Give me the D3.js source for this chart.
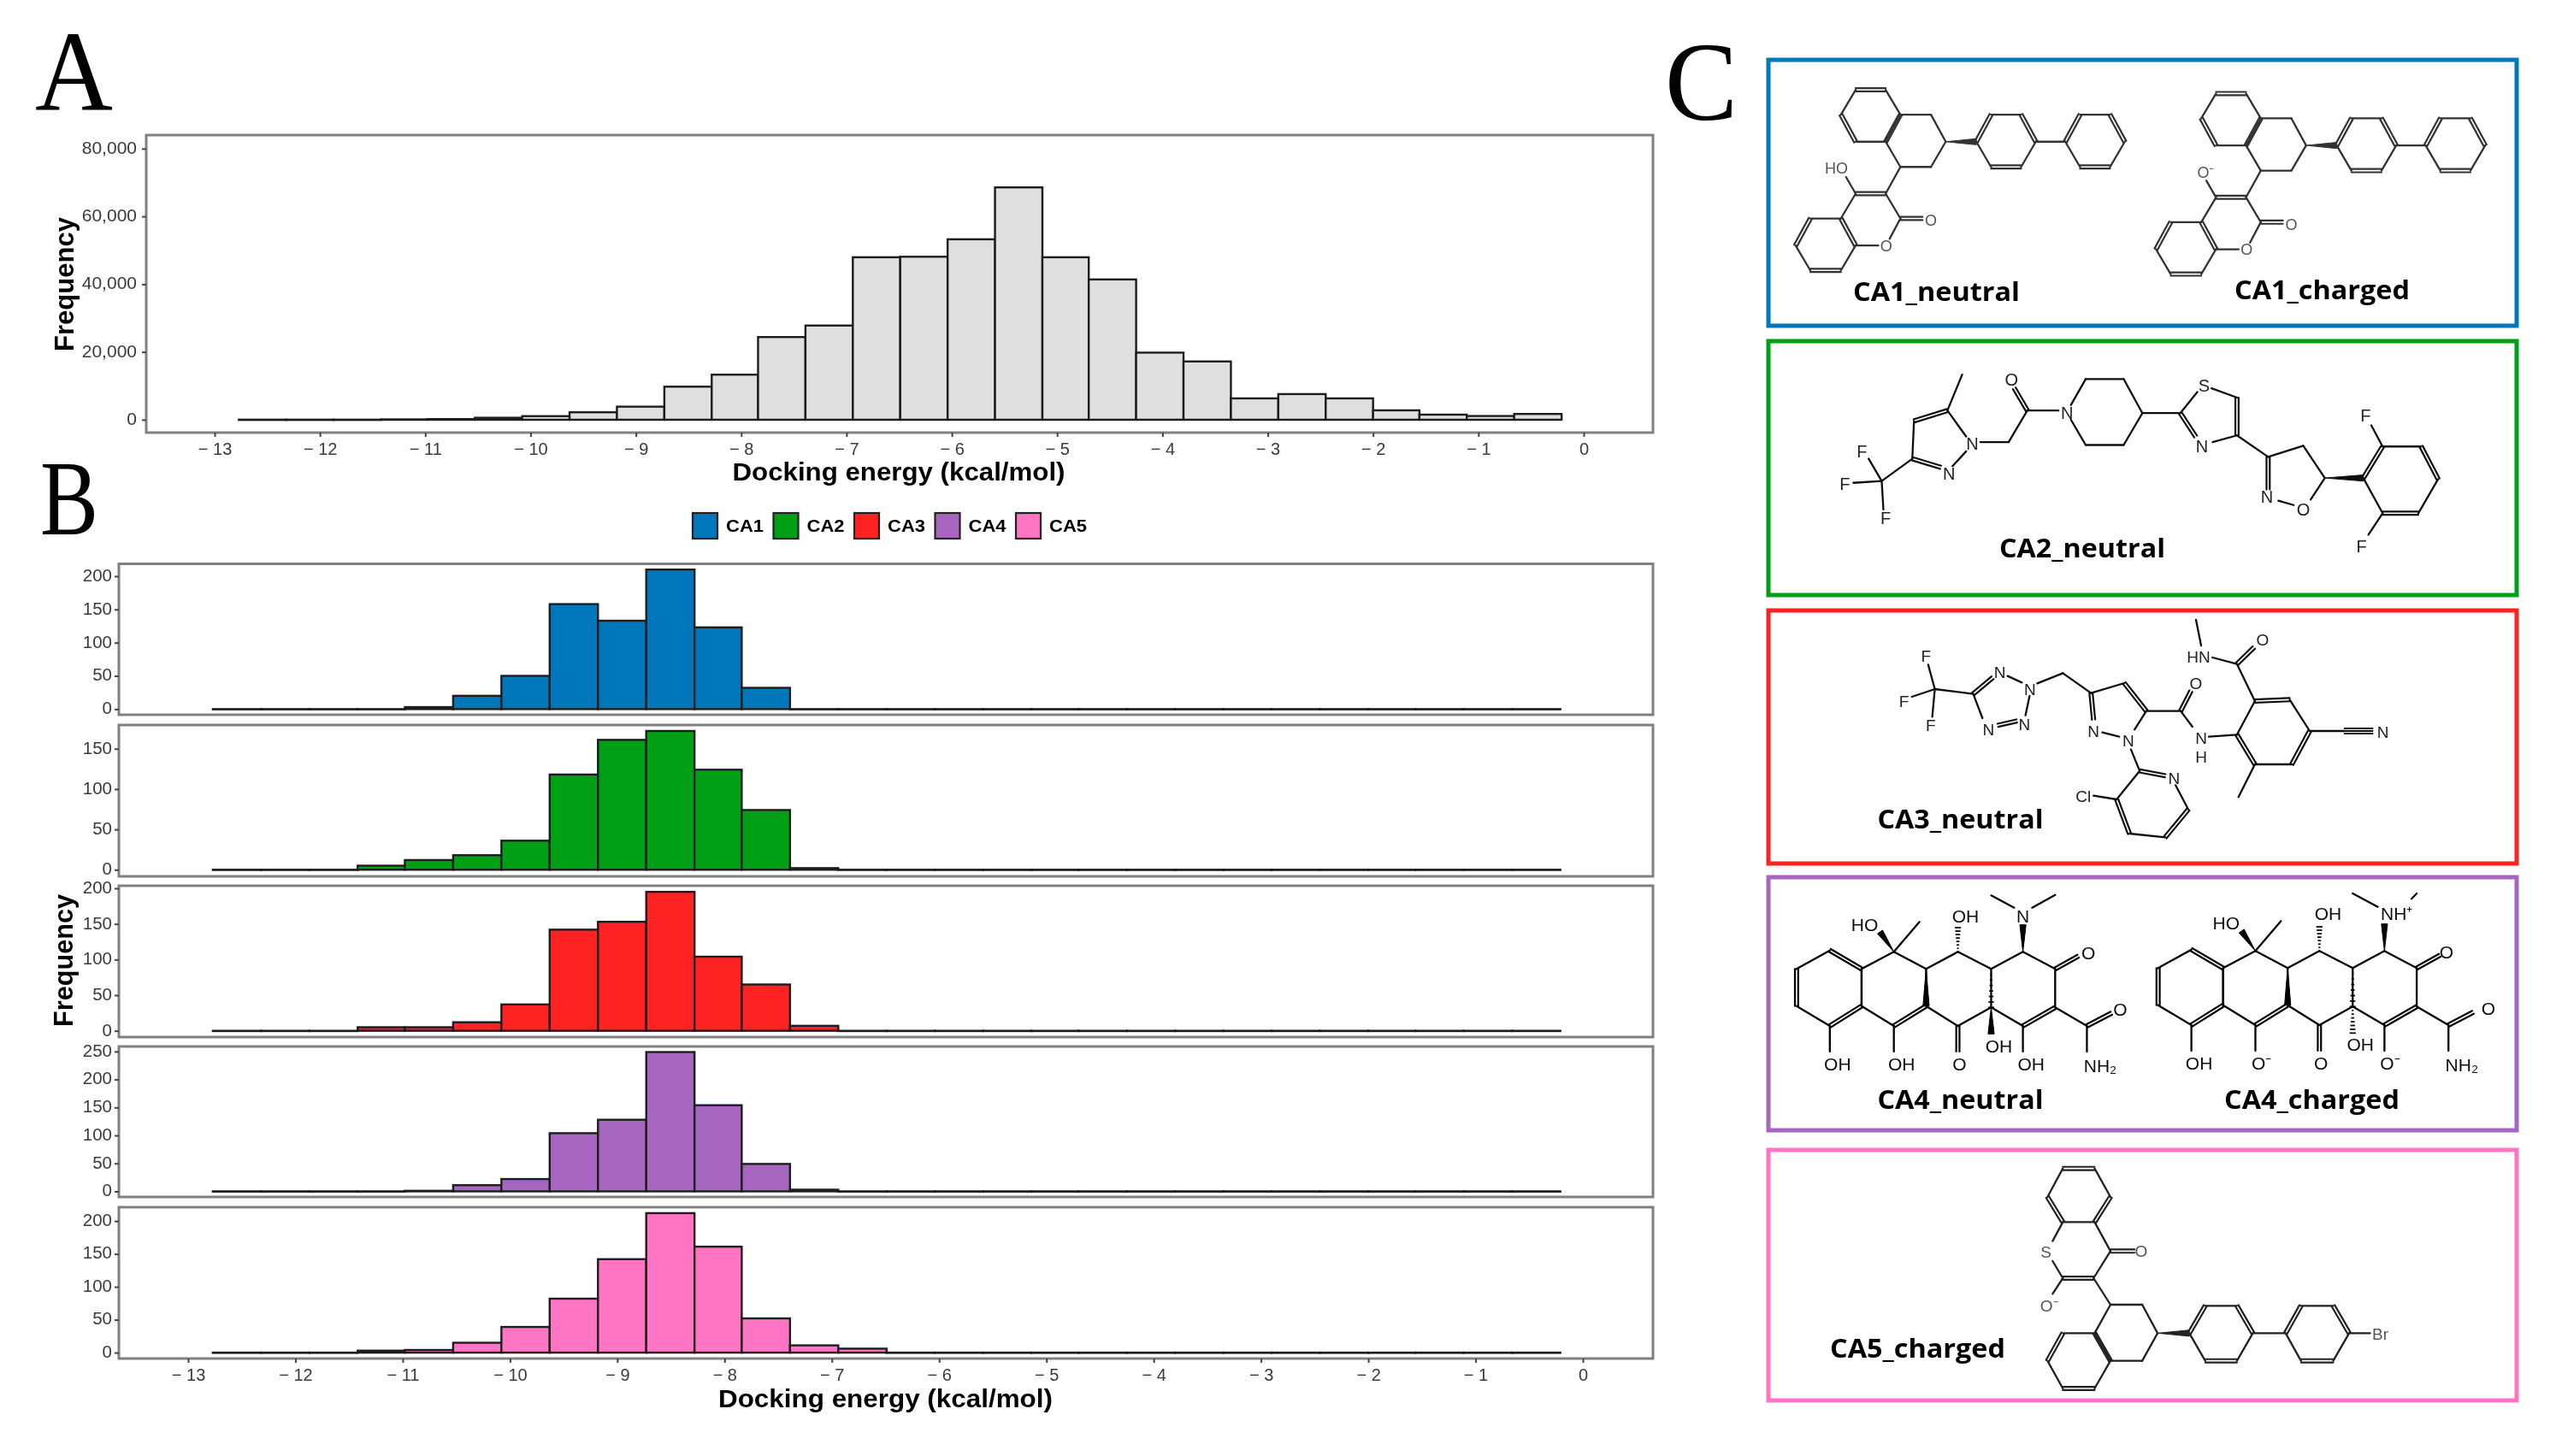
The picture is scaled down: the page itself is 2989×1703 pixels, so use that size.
<!DOCTYPE html>
<html>
<head>
<meta charset="utf-8">
<title>Docking energy histograms</title>
<script src="https://cdn.jsdelivr.net/npm/d3@7"></script>
<style>
html, body { margin: 0; padding: 0; background: #fff; }
svg { display: block; }
</style>
</head>
<body>
<div id="chart"></div>
<script>
// histogram bin edges (kcal/mol), 28 bins
var binEdges = [-12.77, -12.32, -11.87, -11.42, -10.98, -10.53, -10.08, -9.63, -9.18, -8.73, -8.28, -7.84, -7.39, -6.94,
    -6.49, -6.04, -5.59, -5.14, -4.70, -4.25, -3.80, -3.35, -2.90, -2.45, -2.00, -1.56, -1.11, -0.66, -0.21];

var allCounts = [20, 20, 20, 100, 200, 580, 1060, 2200, 3860, 9760, 13300, 24400, 27800, 47950,
    48100, 53250, 68560, 47950, 41400, 19800, 17200, 6300, 7570, 6300, 2780, 1500, 1100, 1700];

var ca1Counts = [0, 0, 0, 0, 3, 20, 50, 158, 133, 210, 123, 32, 0, 0, 0, 0, 0, 0, 0, 0, 0, 0, 0, 0, 0, 0, 0, 0];
var ca2Counts = [0, 0, 0, 5, 12, 18, 36, 118, 161, 172, 124, 74, 2, 0, 0, 0, 0, 0, 0, 0, 0, 0, 0, 0, 0, 0, 0, 0];
var ca3Counts = [0, 0, 0, 5, 5, 12, 37, 142, 153, 195, 104, 65, 7, 0, 0, 0, 0, 0, 0, 0, 0, 0, 0, 0, 0, 0, 0, 0];
var ca4Counts = [0, 0, 0, 0, 1, 11, 22, 104, 128, 249, 154, 49, 3, 0, 0, 0, 0, 0, 0, 0, 0, 0, 0, 0, 0, 0, 0, 0];
var ca5Counts = [0, 0, 0, 3, 4, 15, 39, 82, 142, 212, 161, 52, 11, 6, 0, 0, 0, 0, 0, 0, 0, 0, 0, 0, 0, 0, 0, 0];

var caNames = ['CA1', 'CA2', 'CA3', 'CA4', 'CA5'];
var caColors = ['#0077bb', '#00a014', '#ff2124', '#a666bf', '#ff75c3'];
var caCounts = [ca1Counts, ca2Counts, ca3Counts, ca4Counts, ca5Counts];

var energyTicks = [-13, -12, -11, -10, -9, -8, -7, -6, -5, -4, -3, -2, -1, 0];
var allTicks = [0, 20000, 40000, 60000, 80000];
var caTicks = [
    [0, 50, 100, 150, 200],
    [0, 50, 100, 150],
    [0, 50, 100, 150, 200],
    [0, 50, 100, 150, 200, 250],
    [0, 50, 100, 150, 200]
];
var caDomains = [[-8.5, 218.6], [-8.2, 179.4], [-8.8, 203.6], [-10, 259], [-9, 221]];

// layout
var panelA = { left: 171, right: 1933, top: 158, bottom: 506 };
var panelBLeft = 139, panelBRight = 1933;
var panelTops = [659.5, 848, 1036, 1224, 1412];
var panelBottoms = [836, 1025, 1213, 1400, 1589];
var axisFont = '"Liberation Sans", Arial, sans-serif';

var svg = d3.select('#chart').append('svg').attr('width', 2989).attr('height', 1703);
var defs = svg.append('defs');
defs.append('filter').attr('id', 'soft').attr('x', 0).attr('y', 0).attr('width', 1).attr('height', 1)
    .attr('filterUnits', 'objectBoundingBox')
    .append('feGaussianBlur').attr('stdDeviation', 0.6);

var root = svg.append('g').attr('filter', 'url(#soft)');
root.append('rect').attr('width', 2989).attr('height', 1703).attr('fill', '#fff');

function energyLabel(v) {
    return v < 0 ? '\u2212 ' + Math.abs(v) : '0';
}

function styleAxis(g) {
    g.select('.domain').remove();
    g.selectAll('line').attr('stroke', '#444').attr('stroke-width', 2);
    g.selectAll('text').attr('fill', '#3a3a3a').attr('font-family', axisFont);
}

function drawPanel(box, x, y, counts, fill, ticks, yFormat, yPad, fontSize, showX) {
    root.append('rect')
        .attr('x', box.left).attr('y', box.top)
        .attr('width', box.right - box.left).attr('height', box.bottom - box.top)
        .attr('fill', 'none').attr('stroke', '#808080').attr('stroke-width', 3);

    // empty bins still show as a flat outline, a zero height rect would not be painted
    root.append('g').selectAll('rect').data(counts).enter().append('rect')
        .attr('x', function (d, i) { return x(binEdges[i]); })
        .attr('width', function (d, i) { return x(binEdges[i + 1]) - x(binEdges[i]); })
        .attr('y', function (d) { return y(d); })
        .attr('height', function (d) { return Math.max(y(0) - y(d), 0.3); })
        .attr('fill', fill)
        .attr('stroke', '#1f1f1f')
        .attr('stroke-width', 2.4);

    var yAxis = d3.axisLeft(y).tickValues(ticks).tickFormat(yFormat).tickSize(5).tickPadding(yPad);
    root.append('g').attr('transform', 'translate(' + box.left + ',0)').call(yAxis)
        .attr('font-size', fontSize).call(styleAxis)
        .selectAll('text').attr('dy', '0.26em');

    if (showX) {
        var xAxis = d3.axisBottom(x).tickValues(energyTicks).tickFormat(energyLabel).tickSize(5).tickPadding(7);
        root.append('g').attr('transform', 'translate(0,' + box.bottom + ')').call(xAxis)
            .attr('font-size', 20).call(styleAxis);
    }
}

// panel A
var xA = d3.scaleLinear().domain([-13, 0]).range([251, 1852]);
var yA = d3.scaleLinear().domain([-3800, 84000]).range([panelA.bottom, panelA.top]);
drawPanel(panelA, xA, yA, allCounts, '#dfdfdf', allTicks, d3.format(','), 6, 21, true);

// panel B
var xB = d3.scaleLinear().domain([-13, 0]).range([220, 1851]);
caCounts.forEach(function (counts, i) {
    var box = { left: panelBLeft, right: panelBRight, top: panelTops[i], bottom: panelBottoms[i] };
    var y = d3.scaleLinear().domain(caDomains[i]).range([box.bottom, box.top]);
    drawPanel(box, xB, y, counts, caColors[i], caTicks[i], d3.format('d'), 3, 20.5, i === 4);
});

function fitText(text, x, baseline, width, size, opts) {
    opts = opts || {};
    var t = root.append('text')
        .attr('x', x).attr('y', baseline)
        .attr('font-family', opts.font || axisFont)
        .attr('font-weight', opts.weight || 'bold')
        .attr('font-size', size)
        .attr('fill', opts.fill || '#000')
        .attr('textLength', width)
        .attr('lengthAdjust', 'spacingAndGlyphs')
        .text(text);
    if (opts.rotate) t.attr('transform', 'rotate(-90,' + x + ',' + baseline + ')');
    return t;
}

// axis titles
fitText('Docking energy (kcal/mol)', 856.5, 562, 389, 29);
fitText('Docking energy (kcal/mol)', 840, 1646, 391, 30);
fitText('Frequency', 86, 411, 157, 32, { rotate: true });
fitText('Frequency', 85, 1201, 155, 32, { rotate: true });

// legend
var legendX = d3.scalePoint().domain(caNames).range([810, 1188]);
var legend = root.append('g').selectAll('g').data(caNames).enter().append('g')
    .attr('transform', function (d) { return 'translate(' + legendX(d) + ',600)'; });
legend.append('rect').attr('width', 29).attr('height', 30)
    .attr('fill', function (d, i) { return caColors[i]; })
    .attr('stroke', '#222').attr('stroke-width', 2.2);
legend.append('text').attr('x', 39).attr('y', 22)
    .attr('font-family', axisFont).attr('font-weight', 'bold').attr('font-size', 21)
    .attr('textLength', 44).attr('lengthAdjust', 'spacingAndGlyphs')
    .text(function (d) { return d; });

// panel letters
var letterFont = '"Liberation Serif", "Times New Roman", serif';
fitText('A', 41, 128, 91, 133, { font: letterFont, weight: 'normal' });
fitText('B', 47, 625, 68, 125, { font: letterFont, weight: 'normal' });
fitText('C', 1947, 140, 85, 132, { font: letterFont, weight: 'normal' });

// panel C boxes
var boxTops = [70, 399, 714, 1026, 1345];
var boxBottoms = [381, 696, 1010, 1322, 1638];
caColors.forEach(function (c, i) {
    root.append('rect').attr('x', 2068).attr('y', boxTops[i])
        .attr('width', 2943 - 2068).attr('height', boxBottoms[i] - boxTops[i])
        .attr('fill', '#fff').attr('stroke', c).attr('stroke-width', 5);
});

// molecule sketches, coordinates are per drawing frame and mapped with the scales below
var frameX1 = d3.scaleLinear().domain([0, 1568]).range([1950, 2989]);
var frameY1 = d3.scaleLinear().domain([0, 1568]).range([40, 720]);
var frameX2 = d3.scaleLinear().domain([0, 1568]).range([2050, 2989]);
var frameY3 = d3.scaleLinear().domain([0, 960]).range([700, 1020]);
var frameY4 = d3.scaleLinear().domain([0, 990]).range([1020, 1350]);
var frameY5 = d3.scaleLinear().domain([0, 930]).range([1340, 1650]);

function drawBond(g, a, b, kind, color) {
    var dx = b[0] - a[0], dy = b[1] - a[1], len = Math.sqrt(dx * dx + dy * dy) || 1;
    var nx = -dy / len, ny = dx / len;
    function seg(off, w) {
        g.append('line')
            .attr('x1', a[0] + nx * off).attr('y1', a[1] + ny * off)
            .attr('x2', b[0] + nx * off).attr('y2', b[1] + ny * off)
            .attr('stroke', color).attr('stroke-width', w).attr('stroke-linecap', 'round');
    }
    if (kind === 'd') { seg(-1.9, 2.2); seg(1.9, 2.2); }
    else if (kind === 't') { seg(-3, 1.8); seg(0, 1.8); seg(3, 1.8); }
    else if (kind === 'w') {
        g.append('path')
            .attr('d', d3.line()([a, [b[0] + nx * 3.6, b[1] + ny * 3.6], [b[0] - nx * 3.6, b[1] - ny * 3.6]]) + 'Z')
            .attr('fill', color).attr('stroke', color).attr('stroke-width', 1);
    } else if (kind === 'h') {
        d3.range(0, 8).forEach(function (k) {
            var f = k / 7, w = 0.6 + f * 3;
            var px = a[0] + dx * f, py = a[1] + dy * f;
            g.append('line').attr('x1', px - nx * w).attr('y1', py - ny * w)
                .attr('x2', px + nx * w).attr('y2', py + ny * w)
                .attr('stroke', color).attr('stroke-width', 1.7);
        });
    } else { seg(0, 2.3); }
}

function drawMolecule(m) {
    var g = root.append('g');
    var dx = m.dx || 0, dy = m.dy || 0;
    function pt(p) { return [m.fx(p[0] + dx), m.fy(p[1] + dy)]; }
    (m.rings || []).forEach(function (r) {
        var n = r.pts.length;
        r.pts.forEach(function (p, i) {
            if (r.open && i === n - 1) return;
            drawBond(g, pt(p), pt(r.pts[(i + 1) % n]), r.dbl.indexOf(i) >= 0 ? 'd' : 's', m.color);
        });
    });
    (m.bonds || []).forEach(function (b) {
        drawBond(g, pt([b[0], b[1]]), pt([b[2], b[3]]), b[4] || 's', m.color);
    });
    (m.labels || []).forEach(function (l) {
        var p = pt([l[1], l[2]]);
        g.append('text').attr('x', p[0]).attr('y', p[1]).attr('dy', '0.36em')
            .attr('text-anchor', 'middle').attr('font-family', axisFont)
            .attr('font-size', m.fontSize).attr('fill', m.labelColor).text(l[0]);
    });
}

// CA1
var ca1Rings = [
    { pts: [[332, 150], [385, 150], [411, 217], [385, 290], [332, 290], [306, 217]], dbl: [0, 2, 4] },
    { pts: [[411, 217], [465, 217], [491, 290], [465, 358], [411, 358], [385, 290]], dbl: [] },
    { pts: [[545, 290], [571, 217], [624, 217], [650, 290], [624, 358], [571, 358]], dbl: [0, 2, 4] },
    { pts: [[702, 290], [728, 217], [781, 217], [807, 290], [781, 358], [728, 358]], dbl: [0, 2, 4] },
    { pts: [[306, 497], [332, 570], [306, 637], [252, 637], [226, 570], [252, 497]], dbl: [0, 2, 4] }
];
var ca1Bonds = [
    [491, 290, 545, 290, 'w'], [650, 290, 702, 290], [411, 358, 385, 430], [385, 430, 332, 430, 'd'],
    [332, 430, 306, 497], [385, 430, 411, 497], [411, 497, 392, 552], [411, 497, 450, 497, 'd'],
    [332, 430, 315, 385], [332, 570, 372, 570]
];
drawMolecule({ fx: frameX1, fy: frameY1, color: '#333', labelColor: '#555', fontSize: 18, rings: ca1Rings, bonds: ca1Bonds,
    labels: [['HO', 298, 362], ['O', 386, 570], ['O', 465, 502]] });
drawMolecule({ fx: frameX1, fy: frameY1, color: '#333', labelColor: '#555', fontSize: 18, rings: ca1Rings, bonds: ca1Bonds, dx: 636, dy: 10,
    labels: [['O\u207b', 314, 362], ['O', 386, 570], ['O', 465, 502]] });

// CA2
drawMolecule({ fx: frameX1, fy: frameY1, color: '#111', labelColor: '#222', fontSize: 20,
    rings: [
        { pts: [[712, 1000], [738, 930], [805, 930], [838, 1022], [805, 1108], [738, 1108], [712, 1040]], dbl: [], open: true },
        { pts: [[1228, 1197], [1262, 1112], [1330, 1112], [1360, 1200], [1325, 1292], [1262, 1292]], dbl: [0, 2, 4] }
    ],
    bonds: [
        [520, 918, 494, 1015], [494, 1015, 435, 1043, 'd'], [435, 1043, 432, 1145], [432, 1145, 482, 1168, 'd'],
        [503, 1165, 527, 1125], [527, 1085, 494, 1015], [432, 1145, 378, 1205], [378, 1205, 355, 1145],
        [378, 1205, 328, 1210], [378, 1205, 381, 1282], [552, 1100, 602, 1100], [602, 1100, 635, 1015],
        [635, 1015, 612, 955, 'd'], [635, 1015, 690, 1015], [838, 1022, 905, 1022],
        [905, 1022, 935, 965], [960, 955, 1005, 980], [1005, 980, 1005, 1082, 'd'], [1005, 1082, 962, 1100],
        [905, 1022, 932, 1085, 'd'], [1005, 1082, 1060, 1140], [1060, 1140, 1122, 1110], [1122, 1110, 1160, 1197],
        [1160, 1197, 1135, 1255], [1060, 1140, 1060, 1228, 'd'], [1078, 1258, 1105, 1270], [1160, 1197, 1228, 1197, 'w'],
        [1262, 1112, 1242, 1055], [1262, 1292, 1237, 1350]
    ],
    labels: [['O', 607, 930], ['N', 705, 1020], ['N', 538, 1103], ['N', 497, 1185], ['F', 343, 1125], ['F', 313, 1213], ['F', 385, 1305],
        ['S', 947, 947], ['N', 943, 1112], ['N', 1058, 1248], ['O', 1122, 1282], ['F', 1232, 1028], ['F', 1225, 1380]] });

// CA3
drawMolecule({ fx: frameX2, fy: frameY3, color: '#111', labelColor: '#222', fontSize: 19,
    rings: [{ pts: [[945, 478], [980, 360], [1048, 355], [1087, 465], [1052, 582], [980, 582]], dbl: [1, 3, 5] }],
    bonds: [
        [355, 318, 342, 232], [355, 318, 310, 345], [355, 318, 350, 415], [355, 318, 430, 335], [430, 335, 468, 278, 'd'],
        [497, 272, 525, 295], [540, 342, 532, 410], [515, 430, 478, 445, 'd'], [448, 420, 430, 335], [555, 298, 605, 262],
        [605, 262, 660, 332], [660, 332, 725, 297], [725, 297, 768, 395, 'd'], [768, 395, 745, 460], [715, 485, 682, 470],
        [665, 425, 660, 332, 'd'], [768, 395, 835, 395], [835, 395, 855, 325, 'd'], [835, 395, 858, 450], [738, 530, 755, 605],
        [755, 605, 805, 622, 'd'], [825, 655, 850, 740], [850, 740, 805, 838, 'd'], [805, 838, 735, 825], [735, 825, 710, 705, 'd'],
        [710, 705, 755, 605], [710, 705, 665, 692], [890, 485, 945, 478], [980, 582, 948, 697], [1087, 465, 1155, 465],
        [1155, 465, 1210, 465, 't'], [980, 360, 945, 230], [945, 230, 978, 172, 'd'], [945, 230, 897, 207], [875, 165, 865, 75]
    ],
    labels: [['F', 338, 200], ['F', 295, 360], ['F', 347, 445], ['N', 482, 258], ['N', 541, 318], ['N', 530, 440], ['N', 460, 458],
        ['N', 665, 465], ['N', 733, 497], ['O', 865, 298], ['N', 875, 490], ['H', 875, 555], ['N', 822, 630], ['Cl', 645, 692],
        ['N', 1230, 467], ['O', 995, 145], ['HN', 870, 205]] });

// CA4
var ca4Rings = [
    { pts: [[85, 340], [150, 275], [212, 340], [212, 470], [150, 540], [85, 470]], dbl: [1, 3, 5] },
    { pts: [[212, 340], [275, 280], [338, 340], [338, 470], [275, 540], [212, 470]], dbl: [3] },
    { pts: [[338, 340], [400, 280], [465, 340]], dbl: [], open: true },
    { pts: [[338, 470], [400, 540], [465, 475]], dbl: [], open: true },
    { pts: [[465, 340], [527, 280], [590, 340], [590, 475], [527, 540], [465, 475]], dbl: [3] }
];
var ca4Bonds = [
    [338, 340, 338, 470, 'w'], [465, 340, 465, 475, 'h'], [590, 340, 635, 295, 'd'], [590, 475, 652, 540],
    [652, 540, 700, 495, 'd'], [652, 540, 652, 630], [150, 540, 150, 630], [275, 540, 275, 630], [400, 540, 400, 630, 'd'],
    [527, 540, 527, 630], [275, 280, 248, 210, 'w'], [275, 280, 325, 175], [400, 280, 400, 195, 'h'], [527, 280, 527, 185, 'w']
];
drawMolecule({ fx: frameX2, fy: frameY4, color: '#000', labelColor: '#111', fontSize: 21, rings: ca4Rings,
    bonds: ca4Bonds.concat([[465, 475, 465, 568, 'w'], [510, 125, 465, 82], [545, 125, 590, 80]]),
    labels: [['OH', 165, 672], ['OH', 290, 672], ['O', 403, 672], ['OH', 480, 610], ['OH', 543, 672], ['NH\u2082', 678, 680],
        ['O', 655, 282], ['O', 717, 480], ['HO', 218, 185], ['OH', 415, 155], ['N', 527, 155]] });
drawMolecule({ fx: frameX2, fy: frameY4, color: '#000', labelColor: '#111', fontSize: 21, rings: ca4Rings, dx: 706, dy: -3,
    bonds: ca4Bonds.concat([[465, 475, 465, 568, 'h'], [514, 125, 465, 78], [580, 97, 590, 78]]),
    labels: [['OH', 165, 672], ['O\u207b', 287, 672], ['O', 403, 672], ['OH', 480, 608], ['O\u207b', 538, 672], ['NH\u2082', 678, 680],
        ['O', 648, 282], ['O', 730, 480], ['HO', 218, 182], ['OH', 417, 148], ['NH\u207a', 551, 148]] });

// CA5
drawMolecule({ fx: frameX2, fy: frameY5, color: '#222', labelColor: '#555', fontSize: 19,
    rings: [
        { pts: [[605, 80], [667, 80], [698, 180], [667, 268], [605, 268], [575, 180]], dbl: [0, 2, 4] },
        { pts: [[698, 558], [760, 558], [790, 658], [760, 755], [698, 755], [667, 658]], dbl: [] },
        { pts: [[667, 658], [605, 658], [575, 755], [605, 852], [667, 852], [698, 755]], dbl: [1, 3, 5] },
        { pts: [[852, 658], [883, 562], [945, 562], [976, 658], [945, 755], [883, 755]], dbl: [0, 2, 4] },
        { pts: [[1040, 658], [1070, 562], [1133, 562], [1164, 658], [1133, 755], [1070, 755]], dbl: [0, 2, 4] }
    ],
    bonds: [
        [605, 268, 585, 335], [585, 405, 605, 465], [605, 465, 665, 465, 'd'], [665, 465, 698, 370], [698, 370, 667, 268],
        [698, 370, 745, 370, 'd'], [605, 465, 585, 520], [665, 465, 698, 558], [790, 658, 852, 658, 'w'], [976, 658, 1040, 658],
        [1164, 658, 1205, 658]
    ],
    labels: [['S', 572, 372], ['O', 758, 370], ['O\u207b', 578, 560], ['Br', 1225, 660]] });

// compound labels
var compoundFont = '"Open Sans", "Noto Sans", sans-serif';
[
    ['CA1_neutral', 2167, 352, 195],
    ['CA1_charged', 2613, 350, 205],
    ['CA2_neutral', 2338, 652, 194],
    ['CA3_neutral', 2195.5, 969, 194],
    ['CA4_neutral', 2195.5, 1297, 194],
    ['CA4_charged', 2601, 1297, 205],
    ['CA5_charged', 2140, 1588, 205]
].forEach(function (l) {
    fitText(l[0], l[1], l[2], l[3], 31, { font: compoundFont });
});
</script>
</body>
</html>
